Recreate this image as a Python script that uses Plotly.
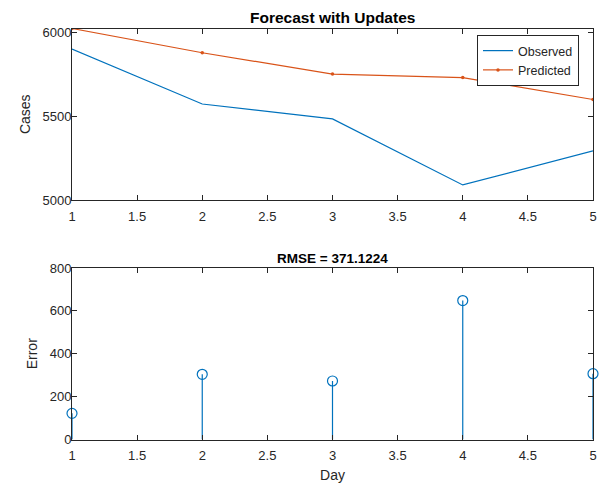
import plotly.graph_objects as go

days = [1, 2, 3, 4, 5]
observed = [5901, 5573, 5484, 5090, 5293]
predicted = [6024, 5879, 5752, 5731, 5600]
errors = [122, 304, 273, 648, 307]
rmse_text = "RMSE = 371.1224"
x_ticks = [1, 1.5, 2, 2.5, 3, 3.5, 4, 4.5, 5]
x_ticktext = ["1", "1.5", "2", "2.5", "3", "3.5", "4", "4.5", "5"]

BLUE = "#0072BD"
ORANGE = "#D95319"
AX = "#262626"
FONT = "Liberation Sans, Arial, Helvetica, sans-serif"

fig = go.Figure()

fig.add_trace(go.Scatter(x=days, y=observed, mode="lines", name="Observed",
                         line=dict(color=BLUE, width=1.2), xaxis="x", yaxis="y"))
fig.add_trace(go.Scatter(x=days, y=predicted, mode="lines+markers", name="Predicted",
                         line=dict(color=ORANGE, width=1.2),
                         marker=dict(color=ORANGE, size=3.5), xaxis="x", yaxis="y"))

# stems
sx, sy = [], []
for d, e in zip(days, errors):
    sx += [d, d, None]
    sy += [0, e, None]
fig.add_trace(go.Scatter(x=sx, y=sy, mode="lines", showlegend=False,
                         line=dict(color=BLUE, width=1.2), xaxis="x2", yaxis="y2"))
fig.add_trace(go.Scatter(x=days, y=errors, mode="markers", showlegend=False,
                         marker=dict(symbol="circle-open", size=10, color=BLUE,
                                     line=dict(width=1.2, color=BLUE)),
                         cliponaxis=False, xaxis="x2", yaxis="y2"))

W, H = 600, 483
ML, MR = 72, 7
ytop = [1 - 200 / H, 1 - 28.5 / H]
ybot = [1 - 439.5 / H, 1 - 268 / H]

axcommon = dict(showline=True, linecolor=AX, linewidth=1, mirror="allticks",
                ticks="inside", ticklen=5, tickcolor=AX, tickwidth=1,
                showgrid=False, zeroline=False, automargin=False,
                tickfont=dict(family=FONT, size=13, color=AX))

fig.update_layout(
    width=W, height=H,
    margin=dict(l=ML, r=MR, t=0, b=0, autoexpand=False),
    paper_bgcolor="white", plot_bgcolor="white",
    font=dict(family=FONT, color=AX),
    xaxis=dict(domain=[0, 1], anchor="y", range=[1, 5], tickvals=x_ticks,
               ticktext=x_ticktext, ticklabelstandoff=4, **axcommon),
    yaxis=dict(domain=ytop, anchor="x", range=[5000, 6024], tickvals=[5000, 5500, 6000],
               ticklabelstandoff=-3,
               title=dict(text="Cases", font=dict(family=FONT, size=14, color=AX), standoff=8),
               **axcommon),
    xaxis2=dict(domain=[0, 1], anchor="y2", range=[1, 5], tickvals=x_ticks,
                ticktext=x_ticktext, ticklabelstandoff=4,
                title=dict(text="Day", font=dict(family=FONT, size=14, color=AX), standoff=12),
                **axcommon),
    yaxis2=dict(domain=ybot, anchor="x2", range=[0, 800], tickvals=[0, 200, 400, 600, 800],
                ticklabelstandoff=-3,
                title=dict(text="Error", font=dict(family=FONT, size=14, color=AX), standoff=8),
                **axcommon),
    legend=dict(x=(579 - ML) / (W - ML - MR), y=1 - 35 / H,
                xanchor="right", yanchor="top",
                bordercolor=AX, borderwidth=1, bgcolor="white",
                font=dict(family=FONT, size=12.5, color=AX),
                tracegroupgap=0),
    annotations=[
        dict(text="<b>Forecast with Updates</b>", x=0.5, y=ytop[1],
             xref="paper", yref="paper", xanchor="center", yanchor="bottom", yshift=0,
             showarrow=False, font=dict(family=FONT, size=15.5, color="black")),
        dict(text="<b>" + rmse_text + "</b>", x=0.5, y=ybot[1],
             xref="paper", yref="paper", xanchor="center", yanchor="bottom", yshift=0,
             showarrow=False, font=dict(family=FONT, size=13.5, color="black")),
    ],
)

fig.write_html(
    "out.html",
    config={"displayModeBar": False},
    post_script="document.body.style.margin='0';document.body.style.overflow='hidden';",
)
